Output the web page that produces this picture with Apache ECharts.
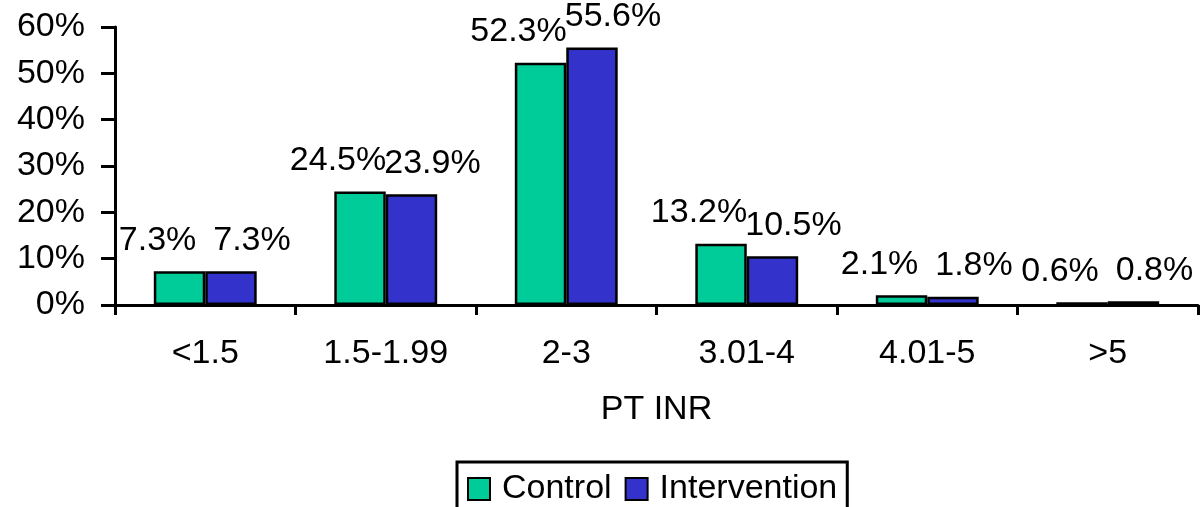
<!DOCTYPE html>
<html>
<head>
<meta charset="utf-8">
<script src="https://cdn.jsdelivr.net/npm/echarts@6/dist/echarts.min.js"></script>
<style>
html,body{margin:0;padding:0;background:#fff;}
#chart{width:1201px;height:507px;}
</style>
</head>
<body>
<div id="chart"></div>
<script>
const categories = ['<1.5', '1.5-1.99', '2-3', '3.01-4', '4.01-5', '>5'];
const controlValues = [7.3, 24.5, 52.3, 13.2, 2.1, 0.6];
const interventionValues = [7.3, 23.9, 55.6, 10.5, 1.8, 0.8];
const yTicks = { min: 0, max: 60, interval: 10 };
const axisTitle = 'PT INR';
const seriesNames = ['Control', 'Intervention'];

const FONT = '"Liberation Sans", Arial, sans-serif';
const chart = echarts.init(document.getElementById('chart'), null, { renderer: 'canvas' });

function barLabel(dx) {
  return {
    show: true,
    position: 'top',
    distance: 14,
    offset: [dx, 0],
    color: '#000',
    fontFamily: FONT,
    fontSize: 34,
    lineHeight: 34,
    formatter: p => p.value.toFixed(1) + '%'
  };
}

chart.setOption({
  backgroundColor: '#fff',
  animation: false,
  textStyle: { fontFamily: FONT, color: '#000' },
  grid: { left: 115, right: 3, top: 27, bottom: 202, containLabel: false },
  legend: {
    left: 457,
    top: 462,
    orient: 'horizontal',
    data: seriesNames,
    icon: 'rect',
    itemWidth: 22,
    itemHeight: 22,
    itemGap: 13,
    borderColor: '#000',
    borderWidth: 3,
    padding: [8, 10, 30, 10],
    textStyle: { fontFamily: FONT, fontSize: 34, color: '#000', lineHeight: 38, padding: [0, 0, 0, 7] }
  },
  xAxis: {
    type: 'category',
    data: categories,
    boundaryGap: true,
    name: axisTitle,
    nameLocation: 'middle',
    nameGap: 88,
    nameTextStyle: { fontFamily: FONT, fontSize: 34, color: '#000' },
    axisLine: { lineStyle: { color: '#000', width: 3 } },
    axisTick: { show: true, alignWithLabel: false, length: 10, lineStyle: { color: '#000', width: 3 } },
    axisLabel: { fontFamily: FONT, fontSize: 34, color: '#000', margin: 32, interval: 0 },
    splitLine: { show: false }
  },
  yAxis: {
    type: 'value',
    min: yTicks.min,
    max: yTicks.max,
    interval: yTicks.interval,
    axisLine: { show: true, lineStyle: { color: '#000', width: 3 } },
    axisTick: { show: true, length: 14, lineStyle: { color: '#000', width: 3 } },
    axisLabel: { fontFamily: FONT, fontSize: 34, color: '#000', margin: 30, formatter: '{value}%' },
    splitLine: { show: false }
  },
  series: [
    {
      name: seriesNames[0],
      type: 'bar',
      data: controlValues,
      barGap: '0%',
      barCategoryGap: '43%',
      itemStyle: { color: '#00CC99', borderColor: '#000', borderWidth: 2.5 },
      label: barLabel(-22)
    },
    {
      name: seriesNames[1],
      type: 'bar',
      data: interventionValues,
      barGap: '0%',
      barCategoryGap: '43%',
      itemStyle: { color: '#3333CC', borderColor: '#000', borderWidth: 2.5 },
      label: barLabel(21)
    }
  ]
});
</script>
</body>
</html>
